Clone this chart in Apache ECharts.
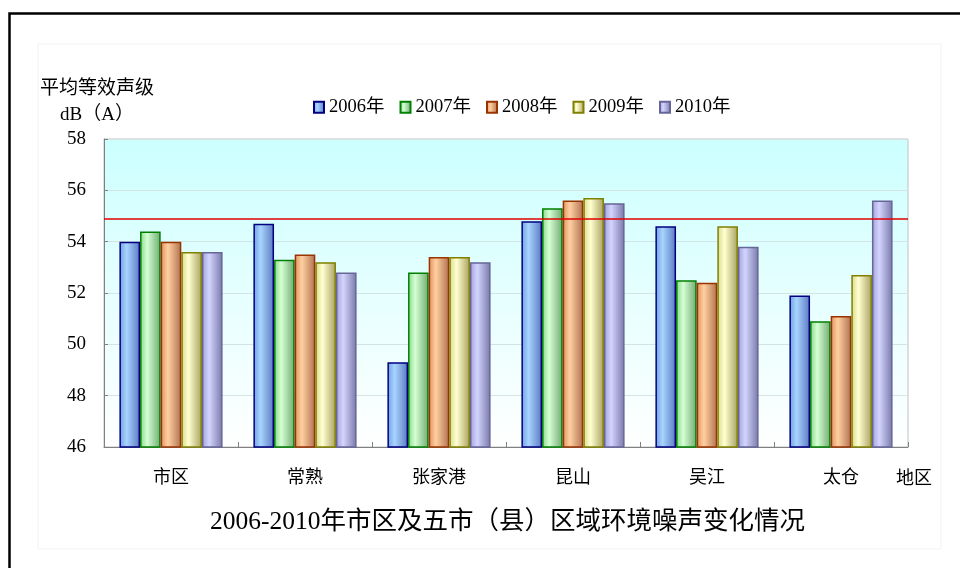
<!DOCTYPE html>
<html>
<head>
<meta charset="utf-8">
<script src="https://cdn.jsdelivr.net/npm/echarts@6/dist/echarts.min.js"></script>
<style>
  html, body { margin: 0; padding: 0; background: #fff; }
  #chart { width: 960px; height: 568px; }
</style>
</head>
<body>
<div id="chart"></div>
<script>
const categories = ['市区', '常熟', '张家港', '昆山', '吴江', '太仓'];
const years = ['2006年', '2007年', '2008年', '2009年', '2010年'];
const values2006 = [54.0, 54.7, 49.3, 54.8, 54.6, 51.9];
const values2007 = [54.4, 53.3, 52.8, 55.3, 52.5, 50.9];
const values2008 = [54.0, 53.5, 53.4, 55.6, 52.4, 51.1];
const values2009 = [53.6, 53.2, 53.4, 55.7, 54.6, 52.7];
const values2010 = [53.6, 52.8, 53.2, 55.5, 53.8, 55.6];
const limitValue = 54.9;

const seriesValues = [values2006, values2007, values2008, values2009, values2010];
// 边框色, 左侧, 中间亮色, 右侧
const palette = [
  ['#000080', '#6f9fe0', '#a8d4ff', '#5a78c0'],
  ['#008000', '#88d888', '#d4ffd4', '#70a870'],
  ['#993300', '#e09060', '#ffd0a0', '#b07050'],
  ['#808000', '#d8d890', '#ffffd0', '#a8a060'],
  ['#666699', '#a0a0d8', '#d4d4ff', '#7878a8']
];
const font = '"Liberation Serif", "Noto Sans CJK SC", serif';

function barColor(p) {
  return new echarts.graphic.LinearGradient(0, 0, 1, 0, [
    { offset: 0, color: p[1] },
    { offset: 0.35, color: p[2] },
    { offset: 1, color: p[3] }
  ]);
}

const chart = echarts.init(document.getElementById('chart'));

const series = years.map(function (y, i) {
  const s = {
    name: y,
    type: 'bar',
    data: seriesValues[i],
    barGap: '0%',
    barCategoryGap: '23%',
    itemStyle: {
      color: barColor(palette[i]),
      borderColor: palette[i][0],
      borderWidth: 1.5
    }
  };
  if (i === 0) {
    s.markLine = {
      silent: true,
      symbol: ['none', 'none'],
      label: { show: false },
      lineStyle: { color: '#e00000', width: 1.5, type: 'solid' },
      data: [{ yAxis: limitValue }]
    };
  }
  return s;
});

const option = {
  backgroundColor: '#fff',
  animation: false,
  textStyle: { fontFamily: font },
  title: {
    text: '2006-2010年市区及五市（县）区域环境噪声变化情况',
    left: 205,
    top: 505,
    textStyle: { fontFamily: font, fontSize: 25.5, fontWeight: 'normal', color: '#000' }
  },
  legend: {
    data: years,
    left: 308,
    top: 93,
    icon: 'rect',
    itemWidth: 10,
    itemHeight: 11,
    itemGap: 15,
    textStyle: { fontFamily: font, fontSize: 18.5, color: '#000', padding: [0, 0, 0, 0] }
  },
  grid: {
    left: 104,
    right: 52,
    top: 139,
    bottom: 121,
    show: true,
    borderColor: '#c0c0c0',
    borderWidth: 1,
    backgroundColor: new echarts.graphic.LinearGradient(0, 0, 0, 1, [
      { offset: 0, color: '#ccffff' },
      { offset: 1, color: '#ffffff' }
    ])
  },
  xAxis: {
    type: 'category',
    data: categories,
    name: '地区',
    nameLocation: 'end',
    nameGap: -12,
    nameTextStyle: {
      fontFamily: font, fontSize: 18, color: '#000',
      verticalAlign: 'top', padding: [23, 0, 0, 0]
    },
    axisLine: { lineStyle: { color: '#808080', width: 1 } },
    axisTick: { show: true, inside: true, length: 5, lineStyle: { color: '#808080' } },
    axisLabel: { fontFamily: font, fontSize: 18, color: '#000', margin: 22 },
    splitLine: { show: false }
  },
  yAxis: {
    type: 'value',
    min: 46,
    max: 58,
    interval: 2,
    name: '平均等效声级\ndB（A）',
    nameLocation: 'end',
    nameGap: 11,
    nameTextStyle: {
      fontFamily: font, fontSize: 19, color: '#000',
      align: 'center', lineHeight: 26, padding: [0, 14, 0, 0]
    },
    axisLine: { show: true, lineStyle: { color: '#808080', width: 1 } },
    axisTick: { show: true, inside: true, length: 4, lineStyle: { color: '#808080' } },
    axisLabel: { fontFamily: font, fontSize: 19, color: '#000', margin: 18 },
    splitLine: { show: true, lineStyle: { color: '#d4e4e4', width: 1 } }
  },
  graphic: [
    {
      type: 'rect',
      shape: { x: 38, y: 44, width: 903, height: 505 },
      style: { fill: 'none', stroke: '#f2f2f2', lineWidth: 1 },
      silent: true,
      z: -1
    },
    {
      type: 'polyline',
      shape: { points: [[9.5, 600], [9.5, 13.5], [1000, 13.5]] },
      style: { fill: 'none', stroke: '#000', lineWidth: 2.5 },
      silent: true
    }
  ],
  series: series
};

chart.setOption(option);
</script>
</body>
</html>
